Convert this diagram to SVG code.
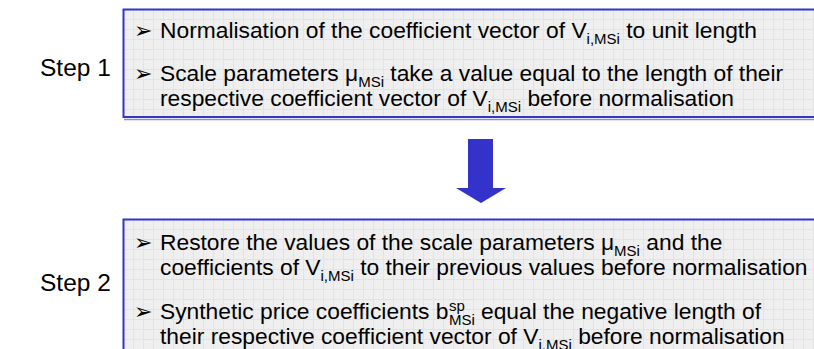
<svg xmlns="http://www.w3.org/2000/svg" width="814" height="349" viewBox="0 0 814 349">
<defs>
<pattern id="grid" x="123" y="9" width="10" height="10" patternUnits="userSpaceOnUse">
<rect width="10" height="10" fill="#efefef"/>
<path d="M0 0.5H10M0.5 0V10" stroke="#e3e3e3" stroke-width="1" fill="none"/>
</pattern>
<style>
.box{fill:url(#grid);stroke:#3535c8;stroke-width:2}
.shadow{fill:none;stroke:#8c8cdc;stroke-width:1.5}
.t{font-family:"Liberation Sans",Arial,sans-serif;font-size:22.8px;fill:#000}
.step{font-family:"Liberation Sans",Arial,sans-serif;font-size:24.5px;fill:#000}
.b{font-family:"DejaVu Sans",sans-serif;font-size:22px;fill:#000}
.sub{font-size:15px}
</style>
</defs>
<g id="connectors">
<path d="M468 139H493V188H506L481 203L456 188H468Z" fill="#3333cc"/>
</g>
<g id="step1">
<text class="step" x="40" y="76">Step 1</text>
<path class="shadow" d="M124 119.5H816"/>
<rect class="box" x="123.5" y="9.5" width="700" height="107.5"/>
<text class="b" x="134" y="38">➢</text>
<text class="t" x="160" y="38">Normalisation of the coefficient vector of V<tspan class="sub" dy="6">i,MSi</tspan><tspan dy="-6"> to unit length</tspan></text>
<text class="b" x="134" y="81">➢</text>
<text class="t" x="160" y="81">Scale parameters μ<tspan class="sub" dy="6">MSi</tspan><tspan dy="-6"> take a value equal to the length of their</tspan></text>
<text class="t" x="160" y="106">respective coefficient vector of V<tspan class="sub" dy="6">i,MSi</tspan><tspan dy="-6"> before normalisation</tspan></text>
</g>
<g id="step2">
<text class="step" x="40" y="291">Step 2</text>
<rect class="box" x="123.5" y="219.5" width="700" height="140"/>
<text class="b" x="134" y="250">➢</text>
<text class="t" x="160" y="250">Restore the values of the scale parameters μ<tspan class="sub" dy="6">MSi</tspan><tspan dy="-6"> and the</tspan></text>
<text class="t" x="160" y="275">coefficients of V<tspan class="sub" dy="6">i,MSi</tspan><tspan dy="-6"> to their previous values before normalisation</tspan></text>
<text class="b" x="134" y="319">➢</text>
<text class="t" x="160" y="319">Synthetic price coefficients b</text>
<text class="t sub" x="449" y="311">sp</text>
<text class="t sub" x="449" y="325">MSi</text>
<text class="t" x="481" y="319">equal the negative length of</text>
<text class="t" x="160" y="344">their respective coefficient vector of V<tspan class="sub" dy="6">i,MSi</tspan><tspan dy="-6"> before normalisation</tspan></text>
</g>
</svg>
